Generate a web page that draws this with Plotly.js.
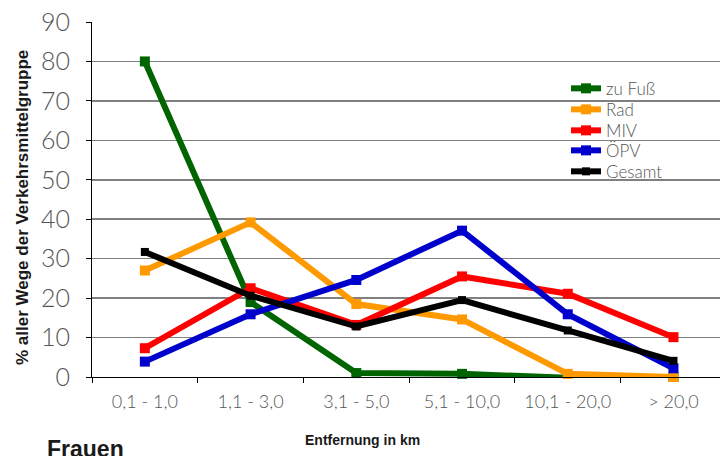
<!DOCTYPE html>
<html>
<head>
<meta charset="utf-8">
<script src="https://cdn.plot.ly/plotly-3.0.1.min.js"></script>
<style>
  html, body { margin: 0; padding: 0; background: #fff; }
  #chart { width: 720px; height: 456px; }
</style>
</head>
<body>
<div id="chart"></div>
<script>
// Distance classes (km)
const categories = ["0,1 - 1,0", "1,1 - 3,0", "3,1 - 5,0", "5,1 - 10,0", "10,1 - 20,0", "> 20,0"];

// Share of all trips per transport mode group (%)
const zuFuss = [80, 19, 1, 0.8, -0.2, 0];
const rad    = [27, 39.2, 18.5, 14.6, 0.8, 0];
const miv    = [7.3, 22.5, 13.2, 25.5, 21.1, 10.1];
const oepv   = [3.9, 15.9, 24.6, 37.1, 15.9, 2.2];
const gesamt = [31.7, 20.6, 12.8, 19.5, 11.8, 4.1];

const seriesNames = ["zu Fuß", "Rad", "MIV", "ÖPV", "Gesamt"];
const seriesValues = [zuFuss, rad, miv, oepv, gesamt];
const seriesColors = ["#006400", "#FF9900", "#FF0000", "#0000CC", "#000000"];
const markerSizes = [10, 10, 10, 10, 8];

// plot area in pixels
const W = 720, H = 456, L = 92, T = 22, B = 79;
const plotW = W - L, plotH = H - T - B;
const px = x => (x - L) / plotW;
const py = y => (H - B - y) / plotH;

const legendIds = ["legend", "legend2", "legend3", "legend4", "legend5"];

const traces = seriesNames.map((name, i) => ({
  type: "scatter",
  mode: "lines+markers",
  name: name,
  legend: legendIds[i],
  x: categories,
  y: seriesValues[i],
  line: { color: seriesColors[i], width: 6 },
  marker: { color: seriesColors[i], symbol: "square", size: markerSizes[i] },
  cliponaxis: false
}));

const thinFont = "Lato Light, Lato, Noto Sans, sans-serif";
const labelFont = { family: "Liberation Sans, Arial, sans-serif", color: "#1a1a1a" };

const layout = {
  width: W,
  height: H,
  margin: { l: L, r: 0, t: T, b: B },
  paper_bgcolor: "#ffffff",
  plot_bgcolor: "#ffffff",
  showlegend: true,
  xaxis: {
    type: "category",
    range: [-0.5, 5.44],
    showgrid: false,
    showline: true,
    linecolor: "#000000",
    linewidth: 1,
    ticks: "outside",
    tickson: "boundaries",
    ticklen: 5,
    tickcolor: "#000000",
    ticklabelstandoff: 8,
    tickfont: { family: thinFont, size: 18, color: "#555555", weight: 300 },
    zeroline: false
  },
  yaxis: {
    range: [0, 90],
    dtick: 10,
    showgrid: true,
    gridcolor: "#808080",
    gridwidth: 1.5,
    showline: true,
    linecolor: "#000000",
    linewidth: 1,
    ticks: "outside",
    ticklen: 5,
    tickcolor: "#000000",
    ticklabelstandoff: 11,
    tickfont: { family: thinFont, size: 25, color: "#555555", weight: 300 },
    zeroline: false
  },
  shapes: [{
    // white panel behind the legend labels
    type: "rect", xref: "paper", yref: "paper", layer: "between",
    x0: px(605), x1: px(680),
    y0: py(182), y1: py(78),
    fillcolor: "#ffffff", line: { width: 0 }
  }],
  annotations: [
    {
      text: "% aller Wege der Verkehrsmittelgruppe",
      xref: "paper", yref: "paper",
      x: px(22), y: py(208),
      xanchor: "center", yanchor: "middle",
      textangle: -90, showarrow: false,
      font: Object.assign({ size: 17, weight: 700 }, labelFont)
    },
    {
      text: "Entfernung in km",
      xref: "paper", yref: "paper",
      x: px(362), y: py(440),
      xanchor: "center", yanchor: "middle",
      showarrow: false,
      font: Object.assign({ size: 14, weight: 700 }, labelFont)
    },
    {
      text: "Frauen",
      xref: "paper", yref: "paper",
      x: px(45), y: py(434),
      xanchor: "left", yanchor: "top",
      showarrow: false,
      font: Object.assign({ size: 23, weight: 700 }, labelFont)
    }
  ]
};

// one legend box per series so the rows sit at their own heights;
// the text row is placed below a small blank title, hence the top anchor
const legendRows = [88, 109, 130, 150, 171];
legendIds.forEach((id, i) => {
  layout[id] = {
    x: px(566), y: py(legendRows[i] - 25),
    xanchor: "left", yanchor: "top",
    bgcolor: "rgba(0,0,0,0)",
    borderwidth: 0,
    title: { text: " ", font: { size: 6 } },
    font: { family: thinFont, size: 17, color: "#555555", weight: 300 },
    itemwidth: 30
  };
});

Plotly.newPlot("chart", traces, layout, { displayModeBar: false, staticPlot: true });
</script>
</body>
</html>
